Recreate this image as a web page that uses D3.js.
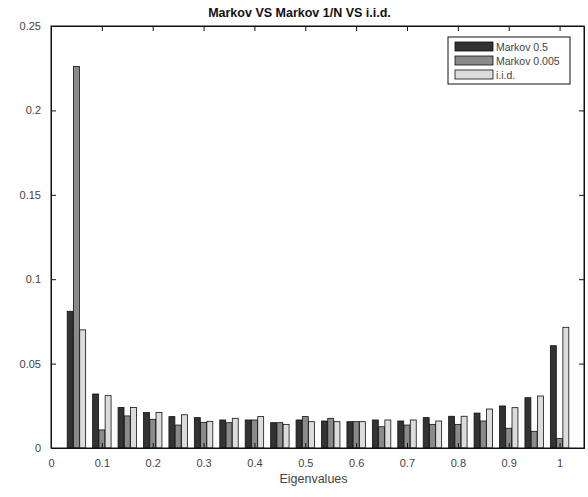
<!DOCTYPE html>
<html>
<head>
<meta charset="utf-8">
<script src="https://cdn.jsdelivr.net/npm/d3@7"></script>
<style>
  body { margin: 0; background: #fff; }
  svg { font-family: "Liberation Sans", Arial, sans-serif; }
  .tick text { font-size: 11px; fill: #444; }
</style>
</head>
<body>
<svg width="588" height="497"></svg>
<script>
// bin centres and the three series
var centers = [0.05, 0.1, 0.15, 0.2, 0.25, 0.3, 0.35, 0.4, 0.45, 0.5,
               0.55, 0.6, 0.65, 0.7, 0.75, 0.8, 0.85, 0.9, 0.95, 1.0];
var markov05 = [0.081, 0.032, 0.024, 0.021, 0.0186, 0.018, 0.0166, 0.0166, 0.015, 0.0166,
                0.016, 0.0156, 0.0166, 0.016, 0.018, 0.0188, 0.0207, 0.0249, 0.0298, 0.0606];
var markov0005 = [0.226, 0.0107, 0.019, 0.017, 0.0136, 0.0152, 0.015, 0.0166, 0.015, 0.0186,
                  0.0176, 0.0156, 0.0126, 0.0136, 0.014, 0.014, 0.016, 0.0117, 0.0099, 0.0057];
var iid = [0.070, 0.031, 0.024, 0.021, 0.0197, 0.0158, 0.0176, 0.0186, 0.014, 0.0156,
           0.0156, 0.0156, 0.0166, 0.0166, 0.016, 0.0188, 0.0231, 0.0239, 0.0308, 0.0715];
var seriesNames = ['Markov 0.5', 'Markov 0.005', 'i.i.d.'];
var seriesColors = ['#333333', '#8a8a8a', '#dcdcdc'];
var xTicks = [0, 0.1, 0.2, 0.3, 0.4, 0.5, 0.6, 0.7, 0.8, 0.9, 1];
var yTicks = [0, 0.05, 0.1, 0.15, 0.2, 0.25];

var svg = d3.select('svg');
var margin = { t: 26, r: 4, b: 49, l: 51 };
var width = 588 - margin.l - margin.r;
var height = 497 - margin.t - margin.b;

var g = svg.append('g').attr('transform', 'translate(' + [margin.l, margin.t] + ')');

var x = d3.scaleLinear().domain([0, 1.048]).range([0, width]);
var y = d3.scaleLinear().domain([0, 0.25]).range([height, 0]);

var groupW = 0.0375;
var sub = d3.scaleBand().domain([0, 1, 2]).range([-groupW / 2, groupW / 2]).padding(0.05);

var allSeries = [markov05, markov0005, iid];

allSeries.forEach(function (vals, s) {
    g.selectAll('.bar-' + s)
        .data(vals)
        .enter()
        .append('rect')
        .attr('class', 'bar-' + s)
        .attr('x', (d, i) => x(centers[i] + sub(s)))
        .attr('width', x(sub.bandwidth()) - x(0))
        .attr('y', d => y(d))
        .attr('height', d => y(0) - y(d))
        .attr('fill', seriesColors[s])
        .attr('stroke', '#111')
        .attr('stroke-width', 0.8);
});

// axes: ticks pointing inward on all four sides
var xAxis = d3.axisBottom(x).tickValues(xTicks).tickSize(-5).tickPadding(11).tickFormat(d3.format('~g'));
var yAxis = d3.axisLeft(y).tickValues(yTicks).tickSize(-5).tickPadding(10).tickFormat(d3.format('~g'));
var xTop = d3.axisTop(x).tickValues(xTicks).tickSize(-5).tickFormat('');
var yRight = d3.axisRight(y).tickValues(yTicks).tickSize(-5).tickFormat('');

g.append('g').attr('transform', 'translate(0,' + height + ')').call(xAxis);
g.append('g').call(yAxis);
g.append('g').call(xTop);
g.append('g').attr('transform', 'translate(' + width + ',0)').call(yRight);

g.selectAll('.domain').attr('stroke', '#111');
g.selectAll('.tick line').attr('stroke', '#111');

g.append('rect')
    .attr('width', width)
    .attr('height', height)
    .attr('fill', 'none')
    .attr('stroke', '#111')
    .attr('stroke-width', 1);

// title and axis label
svg.append('text')
    .attr('x', margin.l + width / 2 - 18)
    .attr('y', 17)
    .attr('text-anchor', 'middle')
    .attr('font-size', 12.5)
    .attr('font-weight', 'bold')
    .attr('fill', '#111')
    .text('Markov VS Markov 1/N VS i.i.d.');

svg.append('text')
    .attr('x', margin.l + width / 2 - 4)
    .attr('y', 483)
    .attr('text-anchor', 'middle')
    .attr('font-size', 12.5)
    .attr('fill', '#444')
    .text('Eigenvalues');

// legend
var legend = svg.append('g').attr('transform', 'translate(448,37)');
legend.append('rect')
    .attr('width', 122)
    .attr('height', 47)
    .attr('fill', '#fff')
    .attr('stroke', '#111');

var items = legend.selectAll('.item')
    .data(seriesNames)
    .enter()
    .append('g')
    .attr('class', 'item')
    .attr('transform', (d, i) => 'translate(7,' + (5 + i * 14) + ')');

items.append('rect')
    .attr('width', 38)
    .attr('height', 9)
    .attr('fill', (d, i) => seriesColors[i])
    .attr('stroke', '#111')
    .attr('stroke-width', 0.8);

items.append('text')
    .attr('x', 41)
    .attr('y', 9)
    .attr('font-size', 10.5)
    .attr('fill', '#444')
    .text(d => d);
</script>
</body>
</html>
